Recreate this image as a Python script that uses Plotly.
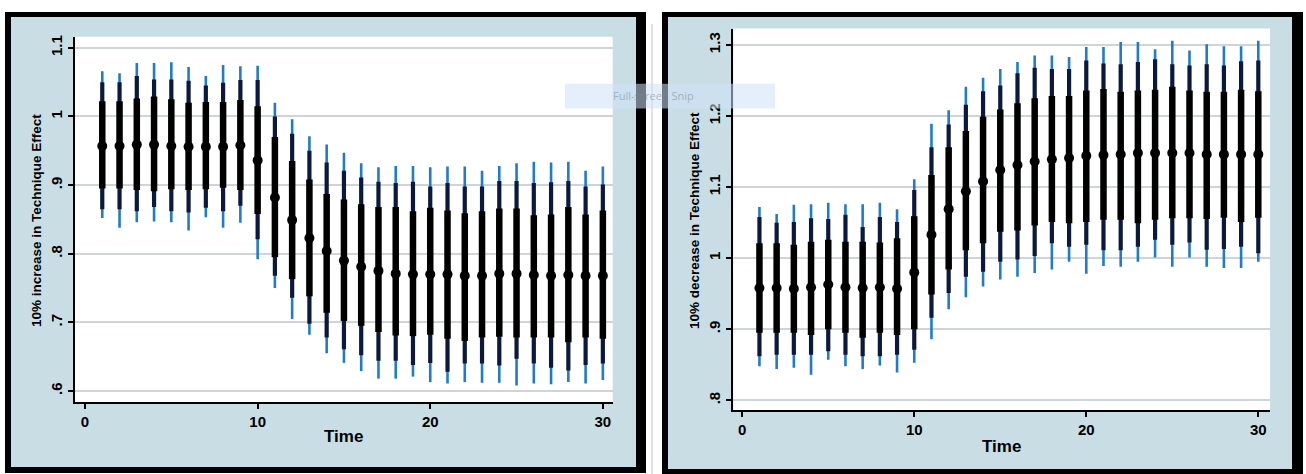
import plotly.graph_objects as go

# ---- data -------------------------------------------------------------
time = list(range(1, 31))

# 10% increase: point estimates and three nested interval bands
inc_est = [.957, .957, .959, .959, .957, .956, .956, .956, .958, .936,
           .882, .849, .823, .804, .790, .781, .775, .771, .770, .770,
           .770, .768, .768, .771, .771, .769, .768, .769, .768, .768]
inc_wide_lo = [.852, .838, .846, .847, .846, .834, .853, .838, .845, .792,
               .750, .705, .682, .655, .641, .629, .618, .618, .621, .613,
               .611, .613, .612, .612, .608, .611, .610, .613, .611, .616]
inc_wide_hi = [1.066, 1.063, 1.078, 1.078, 1.079, 1.072, 1.059, 1.075, 1.073, 1.074,
               1.020, .996, .971, .959, .947, .932, .926, .928, .928, .926,
               .927, .927, .921, .928, .932, .934, .933, .934, .921, .927]
inc_mid_lo = [.865, .865, .862, .868, .862, .860, .867, .862, .870, .821,
              .768, .736, .698, .678, .661, .652, .644, .644, .638, .641,
              .628, .640, .640, .637, .647, .640, .634, .630, .638, .640]
inc_mid_hi = [1.050, 1.050, 1.059, 1.054, 1.054, 1.052, 1.045, 1.049, 1.053, 1.053,
              1.000, .975, .950, .933, .921, .911, .905, .903, .905, .898,
              .903, .898, .898, .906, .906, .903, .904, .906, .898, .901]
inc_nar_lo = [.895, .895, .893, .891, .894, .893, .894, .896, .893, .858,
              .795, .763, .738, .714, .702, .695, .686, .681, .680, .682,
              .676, .673, .678, .679, .678, .678, .678, .671, .678, .676]
inc_nar_hi = [1.022, 1.022, 1.026, 1.029, 1.025, 1.020, 1.021, 1.021, 1.024, 1.015,
              .970, .935, .908, .887, .879, .872, .868, .868, .862, .867,
              .863, .859, .862, .866, .866, .856, .857, .868, .857, .863]

# 10% decrease: point estimates and three nested interval bands
dec_est = [.958, .958, .957, .959, .963, .959, .958, .959, .957, .980,
           1.033, 1.069, 1.094, 1.108, 1.124, 1.131, 1.136, 1.139, 1.141, 1.144,
           1.145, 1.146, 1.148, 1.148, 1.148, 1.148, 1.146, 1.146, 1.146, 1.146]
dec_wide_lo = [.848, .844, .846, .836, .857, .848, .844, .849, .839, .853,
               .886, .928, .945, .960, .970, .974, .979, .984, .995, .978,
               .989, .988, .995, 1.001, .988, 1.001, .988, .986, .986, .995]
dec_wide_hi = [1.072, 1.062, 1.075, 1.076, 1.078, 1.076, 1.076, 1.078, 1.069, 1.111,
               1.189, 1.208, 1.241, 1.254, 1.266, 1.276, 1.285, 1.285, 1.283, 1.297,
               1.297, 1.304, 1.304, 1.294, 1.306, 1.292, 1.301, 1.298, 1.298, 1.306]
dec_mid_lo = [.862, .864, .864, .864, .869, .864, .862, .862, .864, .871,
              .916, .951, .974, .981, .995, .998, 1.003, 1.021, 1.016, 1.019,
              1.011, 1.011, 1.016, 1.026, 1.019, 1.022, 1.012, 1.013, 1.016, 1.007]
dec_mid_hi = [1.058, 1.050, 1.051, 1.056, 1.055, 1.061, 1.044, 1.058, 1.051, 1.096,
              1.156, 1.188, 1.216, 1.235, 1.243, 1.260, 1.268, 1.266, 1.266, 1.278,
              1.274, 1.273, 1.276, 1.280, 1.273, 1.271, 1.273, 1.271, 1.277, 1.278]
dec_nar_lo = [.895, .895, .895, .892, .900, .895, .888, .895, .892, .900,
              .949, .984, 1.011, 1.021, 1.037, 1.039, 1.046, 1.051, 1.049, 1.051,
              1.054, 1.054, 1.049, 1.054, 1.056, 1.056, 1.055, 1.057, 1.051, 1.057]
dec_nar_hi = [1.021, 1.021, 1.019, 1.023, 1.026, 1.023, 1.023, 1.022, 1.028, 1.059,
              1.117, 1.156, 1.179, 1.199, 1.209, 1.218, 1.225, 1.228, 1.228, 1.236,
              1.238, 1.234, 1.236, 1.237, 1.241, 1.236, 1.234, 1.234, 1.237, 1.235]

x_ticks = [0, 10, 20, 30]
inc_yticks = [.6, .7, .8, .9, 1, 1.1]
inc_ylabels = [".6", ".7", ".8", ".9", "1", "1.1"]
dec_yticks = [.8, .9, 1, 1.1, 1.2, 1.3]
dec_ylabels = [".8", ".9", "1", "1.1", "1.2", "1.3"]

inc_title = "10% increase in Technique Effect"
dec_title = "10% decrease in Technique Effect"
x_title = "Time"

# ---- styling ----------------------------------------------------------
W, H = 1306, 474
FONT = "Liberation Sans, Arial, sans-serif"
BLUE = "#1f7bcc"
NAVY = "#0b1a3c"
BLACK = "#000000"
PANEL_BG = "#c9dee4"
GRID = "#cfd5d6"


def px(x):
    return x / W


def py(y):
    return 1 - y / H


def segments(lo, hi):
    xs, ys = [], []
    for t, a, b in zip(time, lo, hi):
        xs += [t, t, None]
        ys += [a, b, None]
    return xs, ys


fig = go.Figure()

panels = [
    ("x", "y", inc_est,
     [(inc_wide_lo, inc_wide_hi, BLUE, 2.6),
      (inc_mid_lo, inc_mid_hi, NAVY, 4.2),
      (inc_nar_lo, inc_nar_hi, BLACK, 6.5)]),
    ("x2", "y2", dec_est,
     [(dec_wide_lo, dec_wide_hi, BLUE, 2.6),
      (dec_mid_lo, dec_mid_hi, NAVY, 4.2),
      (dec_nar_lo, dec_nar_hi, BLACK, 6.5)]),
]

for xa, ya, est, bands in panels:
    for lo, hi, color, width in bands:
        xs, ys = segments(lo, hi)
        fig.add_trace(go.Scatter(x=xs, y=ys, mode="lines",
                                 line=dict(color=color, width=width),
                                 xaxis=xa, yaxis=ya, hoverinfo="skip",
                                 showlegend=False))
    fig.add_trace(go.Scatter(x=time, y=est, mode="markers",
                             marker=dict(color=BLACK, size=10),
                             xaxis=xa, yaxis=ya, showlegend=False))

tick_font = dict(family=FONT, size=15, color="black", weight="bold")

common_x = dict(tickvals=x_ticks, ticks="outside", ticklen=5, tickwidth=2,
                tickcolor="black", showline=True, linecolor="black",
                linewidth=2, showgrid=False, zeroline=False,
                tickfont=tick_font)
common_y = dict(ticks="outside", ticklen=5, tickwidth=2, tickcolor="black",
                showline=True, linecolor="black", linewidth=2,
                showgrid=True, gridcolor=GRID, gridwidth=1.5,
                zeroline=False, tickangle=-90, tickfont=tick_font)

# plot-area rectangles in pixels (left, top, right, bottom)
L_AREA = (75, 35, 612.7, 401.7)
R_AREA = (733.3, 26.7, 1270, 410)

fig.update_layout(
    width=W, height=H, autosize=False,
    margin=dict(l=0, r=0, t=0, b=0),
    paper_bgcolor="white", plot_bgcolor="white",
    xaxis=dict(domain=[px(L_AREA[0]), px(L_AREA[2])], anchor="y",
               range=[-0.58, 30.57], **common_x),
    yaxis=dict(domain=[py(L_AREA[3]), py(L_AREA[1])], anchor="x",
               range=[0.584, 1.116], tickvals=inc_yticks,
               ticktext=inc_ylabels, **common_y),
    xaxis2=dict(domain=[px(R_AREA[0]), px(R_AREA[2])], anchor="y2",
                range=[-0.52, 30.68], **common_x),
    yaxis2=dict(domain=[py(R_AREA[3]), py(R_AREA[1])], anchor="x2",
                range=[0.786, 1.323], tickvals=dec_yticks,
                ticktext=dec_ylabels, **common_y),
)


def rect(x0, y0, x1, y1, fill, layer="below", line_width=0, line_color=None):
    return dict(type="rect", xref="paper", yref="paper",
                x0=px(x0), x1=px(x1), y0=py(y1), y1=py(y0),
                fillcolor=fill, layer=layer,
                line=dict(width=line_width, color=line_color or fill))


shapes = [
    # left panel frame, background and plot region
    rect(5, 10, 646, 473, BLACK),
    rect(11, 15, 636, 467, PANEL_BG),
    rect(*L_AREA, "white"),
    # right panel frame, background and plot region
    rect(662, 10, 1303, 474, BLACK),
    rect(668, 15, 1292, 469, PANEL_BG),
    rect(*R_AREA, "white"),
    # thin separator between the panels
    dict(type="line", xref="paper", yref="paper", x0=px(652), x1=px(652),
         y0=py(474), y1=py(22), line=dict(color="#c4c4c4", width=1),
         layer="below"),
    # snipping-tool banner
    rect(565, 82, 775, 107, "rgba(205,225,248,0.55)", layer="above"),
]
fig.update_layout(shapes=shapes)

title_font = dict(family=FONT, size=17, color="black", weight="bold")
ytitle_font = dict(family=FONT, size=13.5, color="black", weight="bold")

annotations = [
    dict(text=x_title, x=px((L_AREA[0] + L_AREA[2]) / 2), y=py(436),
         xref="paper", yref="paper", showarrow=False, font=title_font,
         xanchor="center", yanchor="middle"),
    dict(text=x_title, x=px((R_AREA[0] + R_AREA[2]) / 2), y=py(446),
         xref="paper", yref="paper", showarrow=False, font=title_font,
         xanchor="center", yanchor="middle"),
    dict(text=inc_title, x=px(36), y=py(220), xref="paper", yref="paper",
         showarrow=False, font=ytitle_font, textangle=-90,
         xanchor="center", yanchor="middle"),
    dict(text=dec_title, x=px(694), y=py(220), xref="paper", yref="paper",
         showarrow=False, font=ytitle_font, textangle=-90,
         xanchor="center", yanchor="middle"),
    dict(text="Full-screen Snip", x=px(654), y=py(94), xref="paper",
         yref="paper", showarrow=False,
         font=dict(family="Segoe UI, Open Sans, sans-serif", size=11,
                   color="rgba(120,135,150,0.55)"),
         xanchor="center", yanchor="middle"),
]
fig.update_layout(annotations=annotations)

fig.write_html("out.html")
